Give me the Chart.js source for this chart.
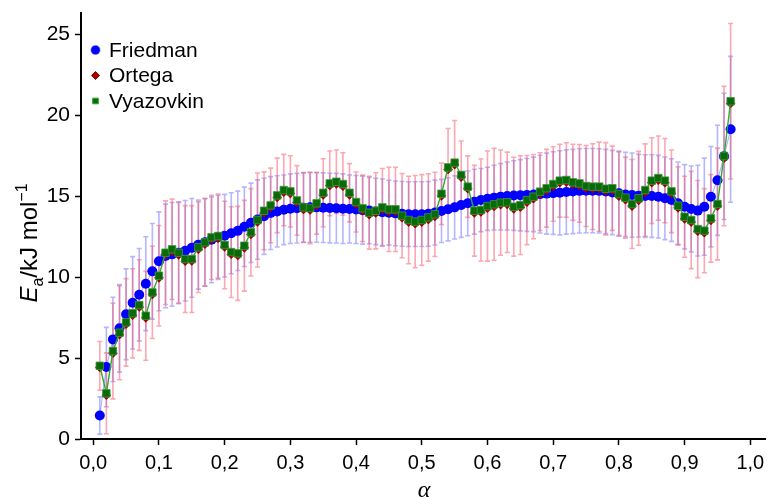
<!DOCTYPE html>
<html>
<head>
<meta charset="utf-8">
<script src="https://cdn.jsdelivr.net/npm/chart.js@4.4.1/dist/chart.umd.min.js"></script>
<style>
  html, body { margin: 0; padding: 0; background: #fff; }
  #wrap { width: 772px; height: 497px; }
</style>
</head>
<body>
<div id="wrap"><canvas id="myChart"></canvas></div>
<script>
// conversion degree
const alpha = [0.01, 0.02, 0.03, 0.04, 0.05, 0.06, 0.07, 0.08, 0.09, 0.10,
  0.11, 0.12, 0.13, 0.14, 0.15, 0.16, 0.17, 0.18, 0.19, 0.20,
  0.21, 0.22, 0.23, 0.24, 0.25, 0.26, 0.27, 0.28, 0.29, 0.30,
  0.31, 0.32, 0.33, 0.34, 0.35, 0.36, 0.37, 0.38, 0.39, 0.40,
  0.41, 0.42, 0.43, 0.44, 0.45, 0.46, 0.47, 0.48, 0.49, 0.50,
  0.51, 0.52, 0.53, 0.54, 0.55, 0.56, 0.57, 0.58, 0.59, 0.60,
  0.61, 0.62, 0.63, 0.64, 0.65, 0.66, 0.67, 0.68, 0.69, 0.70,
  0.71, 0.72, 0.73, 0.74, 0.75, 0.76, 0.77, 0.78, 0.79, 0.80,
  0.81, 0.82, 0.83, 0.84, 0.85, 0.86, 0.87, 0.88, 0.89, 0.90,
  0.91, 0.92, 0.93, 0.94, 0.95, 0.96, 0.97];

// activation energy, kJ/mol
const friedman = [1.45, 4.44, 6.15, 6.83, 7.70, 8.41, 8.91, 9.59, 10.35, 10.97,
  11.30, 11.40, 11.50, 11.62, 11.80, 12.00, 12.15, 12.30, 12.45, 12.55,
  12.70, 12.85, 13.10, 13.35, 13.55, 13.75, 13.95, 14.05, 14.15, 14.22,
  14.25, 14.28, 14.30, 14.30, 14.28, 14.26, 14.25, 14.22, 14.20, 14.17,
  14.13, 14.10, 14.05, 14.00, 13.97, 13.93, 13.90, 13.88, 13.88, 13.88,
  13.90, 13.98, 14.08, 14.18, 14.30, 14.45, 14.55, 14.65, 14.75, 14.83,
  14.90, 14.95, 15.00, 15.03, 15.05, 15.07, 15.10, 15.12, 15.15, 15.18,
  15.20, 15.25, 15.28, 15.32, 15.33, 15.33, 15.32, 15.28, 15.22, 15.17,
  15.10, 15.06, 15.02, 15.00, 15.00, 14.96, 14.86, 14.75, 14.55, 14.34,
  14.20, 14.10, 14.34, 14.96, 15.97, 17.45, 19.12];

const ortega = [4.42, 2.70, 5.30, 6.44, 7.08, 7.64, 8.15, 7.48, 8.92, 9.95,
  11.38, 11.58, 11.37, 10.98, 10.99, 11.71, 12.02, 12.32, 12.40, 11.86,
  11.41, 11.33, 11.80, 12.63, 13.40, 13.96, 14.30, 14.91, 15.24, 15.16,
  14.60, 14.17, 14.14, 14.42, 15.07, 15.65, 15.75, 15.61, 15.07, 14.50,
  14.11, 13.84, 13.96, 14.17, 14.05, 14.05, 13.66, 13.39, 13.29, 13.39,
  13.55, 13.74, 15.01, 16.64, 16.93, 16.17, 15.45, 13.96, 14.01, 14.25,
  14.36, 14.46, 14.48, 14.21, 14.31, 14.62, 14.83, 15.14, 15.35, 15.61,
  15.82, 15.86, 15.72, 15.65, 15.49, 15.45, 15.45, 15.32, 15.35, 14.99,
  14.77, 14.38, 14.73, 15.24, 15.82, 15.98, 15.82, 15.16, 14.27, 13.59,
  13.39, 12.83, 12.73, 13.49, 14.38, 17.34, 20.72];

const vyazovkin = [4.52, 2.82, 5.43, 6.56, 7.20, 7.76, 8.27, 7.61, 9.05, 10.08,
  11.50, 11.71, 11.50, 11.11, 11.11, 11.84, 12.14, 12.45, 12.53, 11.98,
  11.54, 11.46, 11.93, 12.76, 13.52, 14.09, 14.42, 15.04, 15.37, 15.29,
  14.73, 14.30, 14.26, 14.55, 15.20, 15.78, 15.88, 15.74, 15.20, 14.63,
  14.24, 13.97, 14.09, 14.30, 14.18, 14.18, 13.79, 13.52, 13.42, 13.52,
  13.68, 13.87, 15.14, 16.77, 17.06, 16.30, 15.58, 14.09, 14.14, 14.38,
  14.49, 14.59, 14.61, 14.34, 14.44, 14.75, 14.96, 15.27, 15.48, 15.74,
  15.95, 15.99, 15.85, 15.78, 15.62, 15.58, 15.58, 15.45, 15.48, 15.12,
  14.90, 14.51, 14.86, 15.37, 15.95, 16.11, 15.95, 15.29, 14.40, 13.72,
  13.52, 12.96, 12.86, 13.62, 14.51, 17.47, 20.85];

// standard deviations
const friedmanErr = [1.15, 2.45, 2.60, 2.70, 2.80, 2.85, 2.85, 2.90, 2.95, 3.05,
  3.20, 3.20, 3.15, 3.10, 3.05, 2.75, 2.70, 2.65, 2.60, 2.55,
  2.50, 2.45, 2.45, 2.45, 2.45, 2.35, 2.25, 2.20, 2.15, 2.15,
  2.15, 2.15, 2.15, 2.15, 2.15, 2.15, 2.15, 2.15, 2.10, 2.10,
  2.10, 2.05, 2.05, 2.05, 2.00, 2.00, 2.00, 2.00, 2.00, 2.00,
  2.00, 2.00, 1.95, 1.95, 1.95, 2.00, 2.00, 2.00, 1.95, 1.95,
  2.00, 2.05, 2.10, 2.15, 2.20, 2.25, 2.30, 2.40, 2.50, 2.55,
  2.60, 2.60, 2.60, 2.60, 2.60, 2.60, 2.60, 2.60, 2.60, 2.60,
  2.60, 2.60, 2.55, 2.55, 2.55, 2.55, 2.55, 2.55, 2.55, 2.60,
  2.65, 2.80, 3.00, 3.10, 3.40, 3.90, 4.50];

const vyazovkinErr = [1.50, 2.50, 2.95, 2.90, 2.70, 2.75, 2.80, 2.75, 2.85, 3.10,
  3.20, 3.10, 3.10, 3.30, 3.30, 2.80, 2.70, 2.60, 2.60, 2.70,
  2.80, 2.90, 2.80, 2.70, 2.90, 2.40, 2.30, 2.30, 2.20, 2.20,
  2.15, 2.15, 2.20, 1.90, 2.10, 2.00, 1.96, 1.93, 1.80, 1.85,
  2.05, 2.25, 2.35, 2.40, 2.60, 2.60, 2.60, 2.70, 2.85, 2.80,
  2.70, 2.60, 1.90, 2.40, 2.60, 2.10, 1.90, 2.80, 3.15, 3.40,
  3.45, 3.25, 3.10, 3.05, 3.05, 2.75, 2.60, 2.40, 2.40, 2.30,
  2.25, 2.30, 2.35, 2.40, 2.50, 2.65, 2.75, 2.85, 2.60, 2.60,
  2.50, 2.75, 2.90, 2.85, 2.65, 2.60, 2.60, 2.55, 2.40, 2.50,
  3.00, 3.00, 2.60, 2.70, 3.45, 4.30, 4.80];

const xTicks = [0, 0.1, 0.2, 0.3, 0.4, 0.5, 0.6, 0.7, 0.8, 0.9, 1.0];
const yTicks = [0, 5, 10, 15, 20, 25];

const toPoints = vals => vals.map((v, i) => ({ x: alpha[i], y: v }));

const FONT = "'Liberation Sans', Arial, sans-serif";

// vertical error bars with small caps, drawn under the markers
const errorBars = {
  id: 'errorBars',
  beforeDatasetsDraw(chart) {
    const { ctx, scales: { x, y } } = chart;
    const sets = [
      { vals: friedman, err: friedmanErr, color: 'rgba(110, 110, 255, 0.5)' },
      { vals: vyazovkin, err: vyazovkinErr, color: 'rgba(250, 80, 100, 0.5)' }
    ];
    ctx.save();
    ctx.lineWidth = 1.6;
    sets.forEach(s => {
      ctx.strokeStyle = s.color;
      s.vals.forEach((v, i) => {
        const px = x.getPixelForValue(alpha[i]);
        const top = y.getPixelForValue(v + s.err[i]);
        const bot = y.getPixelForValue(v - s.err[i]);
        ctx.beginPath();
        ctx.moveTo(px, top); ctx.lineTo(px, bot);
        ctx.moveTo(px - 2.5, top); ctx.lineTo(px + 2.5, top);
        ctx.moveTo(px - 2.5, bot); ctx.lineTo(px + 2.5, bot);
        ctx.stroke();
      });
    });
    ctx.restore();
  }
};

// legend inside the plot, top left
const innerLegend = {
  id: 'innerLegend',
  afterDraw(chart) {
    const { ctx } = chart;
    const rows = [50, 75.5, 101];
    ctx.save();
    chart.data.datasets.forEach((ds, i) => {
      ctx.fillStyle = ds.backgroundColor;
      ctx.strokeStyle = ds.borderColor;
      ctx.lineWidth = 1;
      Chart.helpers.drawPoint(ctx, {
        pointStyle: ds.pointStyle,
        radius: ds.legendRadius,
        borderWidth: 1
      }, 95.5, rows[i]);
      ctx.fillStyle = '#000';
      ctx.font = '21px ' + FONT;
      ctx.textBaseline = 'middle';
      ctx.fillText(ds.label, 109, rows[i] + 1);
    });
    ctx.restore();
  }
};

// axis titles: E_a/kJ mol^-1 and alpha
const axisTitles = {
  id: 'axisTitles',
  afterDraw(chart) {
    const { ctx } = chart;
    ctx.save();
    ctx.fillStyle = '#000';
    ctx.textBaseline = 'alphabetic';
    const parts = [
      { t: 'E', f: 'italic 24px ' + FONT, dy: 0 },
      { t: 'a', f: '16px ' + FONT, dy: 6 },
      { t: '/kJ mol', f: '24px ' + FONT, dy: 0 },
      { t: '\u22121', f: '16px ' + FONT, dy: -10 }
    ];
    let w = 0;
    parts.forEach(p => { ctx.font = p.f; p.w = ctx.measureText(p.t).width; w += p.w; });
    ctx.translate(37, 243);
    ctx.rotate(-Math.PI / 2);
    let cx = -w / 2;
    parts.forEach(p => { ctx.font = p.f; ctx.fillText(p.t, cx, p.dy); cx += p.w; });
    ctx.restore();

    ctx.save();
    ctx.fillStyle = '#000';
    ctx.font = "italic 24px 'Liberation Serif', 'DejaVu Serif', serif";
    ctx.textAlign = 'center';
    ctx.textBaseline = 'alphabetic';
    ctx.fillText('\u03b1', 424, 497);
    ctx.restore();
  }
};

new Chart(document.getElementById('myChart'), {
  type: 'scatter',
  data: {
    datasets: [
      {
        label: 'Friedman',
        data: toPoints(friedman),
        showLine: true,
        borderColor: 'rgba(110, 110, 255, 0.6)',
        borderWidth: 1,
        backgroundColor: '#0000ff',
        pointBackgroundColor: '#0000ff',
        pointBorderColor: '#0000ff',
        pointStyle: 'circle',
        pointRadius: 5,
        pointBorderWidth: 0,
        legendRadius: 4.6,
        order: 3
      },
      {
        label: 'Ortega',
        data: toPoints(ortega),
        showLine: false,
        borderColor: '#a00000',
        backgroundColor: '#a00000',
        pointStyle: 'rectRot',
        pointRadius: 4.8,
        pointBorderWidth: 0,
        legendRadius: 4,
        order: 2
      },
      {
        label: 'Vyazovkin',
        data: toPoints(vyazovkin),
        showLine: true,
        borderColor: '#2faa2f',
        borderWidth: 1.4,
        backgroundColor: '#0a6a0a',
        pointBackgroundColor: '#0a6a0a',
        pointBorderColor: '#3a9a3a',
        pointStyle: 'rect',
        pointRadius: 5.3,
        pointBorderWidth: 0.8,
        legendRadius: 4,
        order: 1
      }
    ]
  },
  options: {
    responsive: true,
    maintainAspectRatio: false,
    animation: false,
    layout: { padding: { top: 13, right: 1, left: 0, bottom: 0 } },
    plugins: {
      legend: { display: false },
      tooltip: { enabled: false }
    },
    scales: {
      x: {
        type: 'linear',
        min: -0.0186,
        max: 1.0237,
        afterFit(scale) {
          scale.height = 58;
          scale.paddingLeft = 0;
          scale.paddingRight = 0;
        },
        afterBuildTicks(scale) { scale.ticks = xTicks.map(v => ({ value: v })); },
        border: { display: true, color: '#000', width: 2 },
        grid: { drawOnChartArea: false, tickLength: 6, tickColor: '#000', tickWidth: 1.5 },
        ticks: {
          padding: 6,
          color: '#000',
          font: { family: FONT, size: 20 },
          maxRotation: 0,
          callback: v => v.toFixed(1).replace('.', ',')
        }
      },
      y: {
        type: 'linear',
        min: 0,
        max: 26.3,
        afterFit(scale) {
          scale.width = 81;
          scale.paddingTop = 0;
          scale.paddingBottom = 0;
        },
        afterBuildTicks(scale) { scale.ticks = yTicks.map(v => ({ value: v })); },
        border: { display: true, color: '#000', width: 2 },
        grid: { drawOnChartArea: false, tickLength: 6, tickColor: '#000', tickWidth: 1.5 },
        ticks: {
          padding: 5,
          color: '#000',
          font: { family: FONT, size: 21 },
          callback: v => String(v)
        }
      }
    }
  },
  plugins: [errorBars, innerLegend, axisTitles]
});
</script>
</body>
</html>
